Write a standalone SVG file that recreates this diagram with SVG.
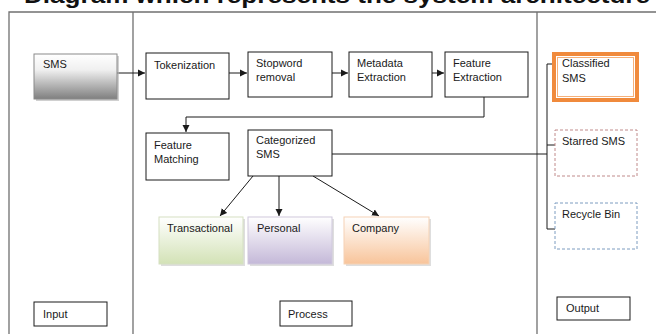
<svg xmlns="http://www.w3.org/2000/svg" width="656" height="334" viewBox="0 0 656 334">
<style>
text{font-family:"Liberation Sans",Arial,sans-serif;font-size:11px;fill:#1a1a1a}
.title{font-family:"Liberation Sans",Arial,sans-serif;font-weight:bold;font-size:22px;fill:#111}
.frame{fill:none;stroke:#707070;stroke-width:1.3}
.box{fill:#fff;stroke:#1a1a1a;stroke-width:1}
.con{fill:none;stroke:#1a1a1a;stroke-width:1}
.arr{fill:none;stroke:#1a1a1a;stroke-width:1;marker-end:url(#ah)}
</style>
<defs>
<marker id="ah" markerWidth="8" markerHeight="8" refX="7" refY="4" orient="auto" markerUnits="userSpaceOnUse">
<path d="M0,0.5 L7,4 L0,7.5 Z" fill="#1a1a1a"/>
</marker>
<linearGradient id="gGray" x1="0" y1="0" x2="0" y2="1"><stop offset="0" stop-color="#ffffff"/><stop offset="0.35" stop-color="#f0f0f0"/><stop offset="1" stop-color="#7f7f7f"/></linearGradient>
<linearGradient id="gGreen" x1="0" y1="0" x2="0" y2="1"><stop offset="0" stop-color="#ffffff"/><stop offset="1" stop-color="#d3e2b6"/></linearGradient>
<linearGradient id="gPurple" x1="0" y1="0" x2="0" y2="1"><stop offset="0" stop-color="#ffffff"/><stop offset="1" stop-color="#c4b8d8"/></linearGradient>
<linearGradient id="gOrange" x1="0" y1="0" x2="0" y2="1"><stop offset="0" stop-color="#ffffff"/><stop offset="1" stop-color="#f8c49a"/></linearGradient>
</defs>
<rect width="656" height="334" fill="#fff"/>
<text class="title" x="24" y="3" textLength="626" lengthAdjust="spacingAndGlyphs">Diagram which represents the system architecture</text>
<g id="frame">
<path class="frame" d="M9,340 V12 H660 M133,12 V340 M537,12 V340"/>
</g>
<g id="connectors">
<path class="arr" d="M117,73 H145"/>
<path class="arr" d="M229,73 H247"/>
<path class="arr" d="M332,73 H348"/>
<path class="arr" d="M432,73 H444"/>
<path class="arr" d="M484,97 V117 H186 V132"/>
<path class="con" d="M332,154 H547 M555,64 H547 V229 H555 M547,145 H555"/>
<path class="arr" d="M253,176 L220,216"/>
<path class="arr" d="M279,176 V216"/>
<path class="arr" d="M313,176 L379,216"/>
</g>
<g id="sms">
<rect x="36" y="56" width="83" height="45" fill="#b0b0b0" opacity="0.6"/>
<rect x="34" y="54" width="83" height="45" fill="url(#gGray)" stroke="#8a8a8a"/>
<text x="43" y="68">SMS</text>
</g>
<g id="tokenization">
<rect class="box" x="146" y="53" width="83" height="46"/>
<text x="154" y="69">Tokenization</text>
</g>
<g id="stopword">
<rect class="box" x="248" y="52" width="84" height="45"/>
<text x="256" y="67">Stopword</text><text x="256" y="81">removal</text>
</g>
<g id="metadata">
<rect class="box" x="349" y="52" width="83" height="45"/>
<text x="357" y="67">Metadata</text><text x="357" y="81">Extraction</text>
</g>
<g id="feature-extraction">
<rect class="box" x="445" y="52" width="83" height="45"/>
<text x="453" y="67">Feature</text><text x="453" y="81">Extraction</text>
</g>
<g id="feature-matching">
<rect class="box" x="146" y="133" width="83" height="47"/>
<text x="154" y="149">Feature</text><text x="154" y="163">Matching</text>
</g>
<g id="categorized">
<rect class="box" x="248" y="130" width="84" height="46"/>
<text x="256" y="144">Categorized</text><text x="256" y="158">SMS</text>
</g>
<g id="transactional">
<rect x="161" y="219" width="84" height="47" fill="#c8c8c8" opacity="0.6"/>
<rect x="159" y="217" width="84" height="47" fill="url(#gGreen)" stroke="#d5e0c2"/>
<text x="167" y="232">Transactional</text>
</g>
<g id="personal">
<rect x="250" y="219" width="84" height="47" fill="#c8c8c8" opacity="0.6"/>
<rect x="248" y="217" width="84" height="47" fill="url(#gPurple)" stroke="#cfc8dc"/>
<text x="257" y="232">Personal</text>
</g>
<g id="company">
<rect x="346" y="219" width="85" height="47" fill="#c8c8c8" opacity="0.6"/>
<rect x="344" y="217" width="85" height="47" fill="url(#gOrange)" stroke="#f5d2b5"/>
<text x="352" y="232">Company</text>
</g>
<g id="classified">
<rect x="554" y="54" width="83" height="46" fill="#fff" stroke="#f08a3c" stroke-width="4"/>
<rect x="557.5" y="57.5" width="76" height="39" fill="none" stroke="#f5b07a" stroke-width="1"/>
<text x="562" y="67">Classified</text><text x="562" y="82">SMS</text>
</g>
<g id="starred">
<rect x="555" y="130" width="82" height="46" fill="#fff" stroke="#c08a8a" stroke-dasharray="3,2"/>
<text x="562" y="145">Starred SMS</text>
</g>
<g id="recycle">
<rect x="555" y="203" width="82" height="46" fill="#fff" stroke="#7d9cc0" stroke-dasharray="3,2"/>
<text x="562" y="218">Recycle Bin</text>
</g>
<g id="input">
<rect class="box" x="34" y="302" width="73" height="24"/>
<text x="43" y="318">Input</text>
</g>
<g id="process">
<rect class="box" x="280" y="301" width="72" height="25"/>
<text x="288" y="318">Process</text>
</g>
<g id="output">
<rect class="box" x="557" y="297" width="73" height="23"/>
<text x="566" y="312">Output</text>
</g>
</svg>
